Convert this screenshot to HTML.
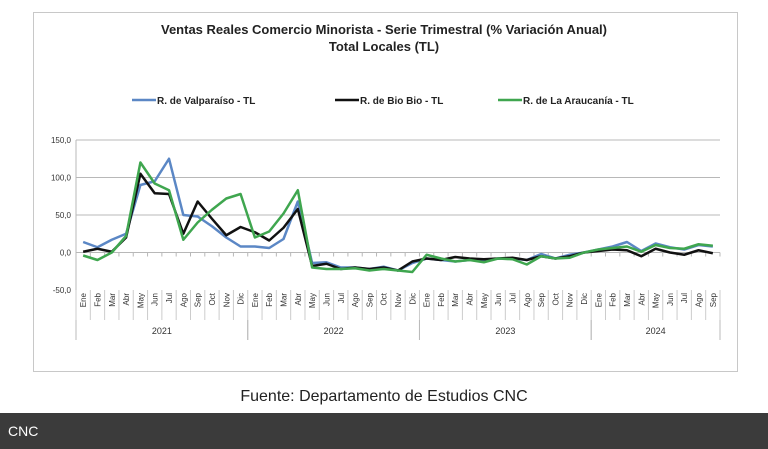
<!DOCTYPE html>
<html><head><meta charset="utf-8"><style>
body{margin:0;width:768px;height:449px;background:#fff;overflow:hidden;font-family:"Liberation Sans",sans-serif;position:relative}
#box{position:absolute;left:33px;top:12px;width:705px;height:360px;border:1px solid #c8c8c8;box-sizing:border-box}
#fuente{position:absolute;left:0;width:768px;top:388px;text-align:center;font-size:16px;color:#222}
#footer{position:absolute;left:0;top:413px;width:768px;height:36px;background:#3b3b3b;color:#fff;font-size:14px;line-height:36px;padding-left:8px;box-sizing:border-box}
</style></head><body>
<div id="box"></div>
<svg id="chart" width="768" height="380" style="position:absolute;left:0;top:0"></svg>
<div id="fuente">Fuente: Departamento de Estudios CNC</div>
<div id="footer">CNC</div>
<script>
const months=["Ene","Feb","Mar","Abr","May","Jun","Jul","Ago","Sep","Oct","Nov","Dic"];
const years=["2021","2022","2023","2024"];
const yTicks=[150,100,50,0,-50];
const valparaiso=[14,7,17,25,90,95,125,50,48,35,20,8, 8,6,18,68,-14,-13,-20,-20,-22,-19,-24,-14, -8,-10,-12,-10,-10,-8,-8,-10,-2,-8,-3,0, 4,8,14,2,12,7,4,10,8];
const biobio=[1,5,1,20,105,79,78,25,68,45,23,34, 27,16,33,58,-18,-15,-22,-20,-22,-20,-24,-12, -8,-10,-6,-8,-9,-8,-7,-10,-5,-8,-5,0, 2,4,3,-5,5,0,-3,3,-1];
const araucania=[-4,-10,0,22,120,92,83,17,40,57,72,78, 20,28,52,83,-20,-22,-22,-21,-24,-22,-24,-26, -3,-8,-12,-10,-13,-8,-9,-16,-5,-8,-7,0, 4,6,8,1,10,6,5,11,9];
const N=valparaiso.length;
const svg=document.getElementById('chart');
const NS="http://www.w3.org/2000/svg";
const L=76,R=720,T=140,B=290;
const x=i=>L+(R-L)/N*(i+0.5);
const y=v=>B-(v+50)/200*(B-T);
function mk(t,a,p){const e=document.createElementNS(NS,t);for(const k in a)e.setAttribute(k,a[k]);(p||svg).appendChild(e);return e;}
let e;
e=mk('text',{x:384,y:34,'text-anchor':'middle','font-size':13,'font-weight':'bold',fill:'#222'});e.textContent="Ventas Reales Comercio Minorista - Serie Trimestral (% Variación Anual)";

e=mk('text',{x:384,y:51,'text-anchor':'middle','font-size':13,'font-weight':'bold',fill:'#222'});e.textContent="Total Locales (TL)";

yTicks.forEach(v=>{
 if(v!==-50){const g=mk('line',{x1:L,x2:R,y1:y(v),y2:y(v),stroke:'#b8b8b8','stroke-width':1});
 }
 const t=mk('text',{x:L-5,y:y(v)+3,'text-anchor':'end','font-size':8,fill:'#333'});t.textContent=v.toFixed(1).replace('.',',');
 
});
mk('line',{x1:L,x2:L,y1:T,y2:B,stroke:'#b8b8b8'});
// x axis category region
for(let i=0;i<=N;i++){const xx=L+(R-L)/N*i;mk('line',{x1:xx,x2:xx,y1:y(0),y2:y(0)+4,stroke:'#b8b8b8'});mk('line',{x1:xx,x2:xx,y1:B,y2:B+30,stroke:'#ccc'});}
for(let i=0;i<N;i++){const t=mk('text',{transform:`translate(${x(i)+3},${B+3}) rotate(-90)`,'text-anchor':'end','font-size':8,fill:'#333'});t.textContent=months[i%12];
 }
years.forEach((yr,k)=>{const s=k*12,e2=Math.min(N,s+12);const x0=L+(R-L)/N*s,x1=L+(R-L)/N*e2;
 mk('line',{x1:x0,x2:x0,y1:B+30,y2:B+50,stroke:'#bbb'});mk('line',{x1:x1,x2:x1,y1:B+30,y2:B+50,stroke:'#bbb'});
 const t=mk('text',{x:(x0+x1)/2,y:B+44,'text-anchor':'middle','font-size':9,fill:'#333'});t.textContent=yr;
 });
const series=[[valparaiso,'#5b87c5','valparaiso-line'],[biobio,'#111','biobio-line'],[araucania,'#3fa64f','araucania-line']];
series.forEach(([d,c,n])=>{const p=mk('polyline',{points:d.map((v,i)=>x(i)+','+y(v)).join(' '),fill:'none',stroke:c,'stroke-width':2.5,'stroke-linejoin':'round'});
 });
const leg=[[132,'#5b87c5','R. de Valparaíso - TL'],[335,'#111','R. de Bio Bio - TL'],[498,'#3fa64f','R. de La Araucanía - TL']];
leg.forEach(([lx,c,txt])=>{const g=mk('g',{});
 mk('line',{x1:lx,x2:lx+24,y1:100,y2:100,stroke:c,'stroke-width':2.5},g);
 const t=mk('text',{x:lx+25,y:104,'font-size':10,'font-weight':'bold',fill:'#222'},g);t.textContent=txt;});
</script>
</body></html>
